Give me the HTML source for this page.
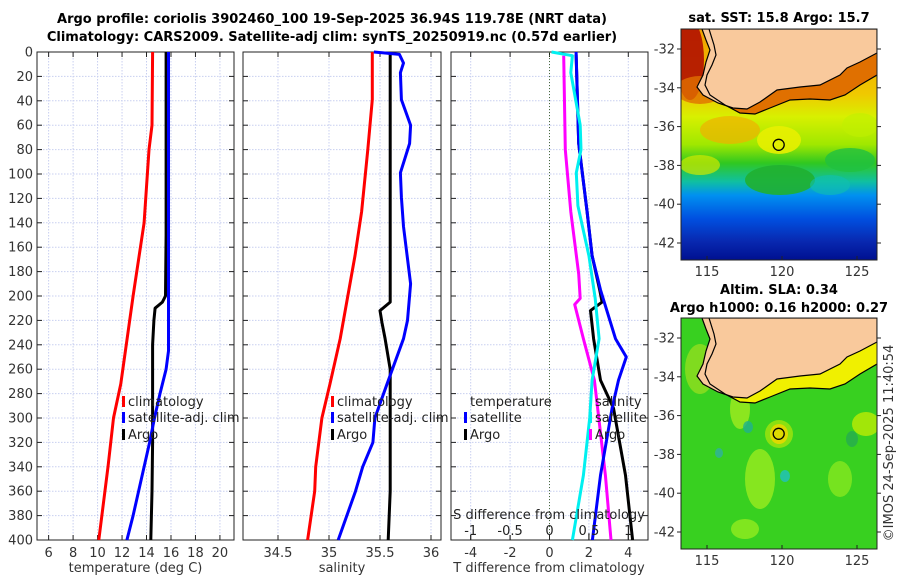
<!DOCTYPE html>
<html><head><meta charset="utf-8"><style>
html,body{margin:0;padding:0;background:#fff;}
svg{display:block;font-family:"DejaVu Sans","Liberation Sans",sans-serif;}
</style></head><body>
<svg id="fig" width="900" height="580" viewBox="0 0 900 580" xmlns="http://www.w3.org/2000/svg">
<defs>
<linearGradient id="sstGrad" x1="0" y1="0" x2="0" y2="1">
<stop offset="0" stop-color="#f0a000"/><stop offset="0.28" stop-color="#f0c800"/>
<stop offset="0.38" stop-color="#d8f000"/><stop offset="0.5" stop-color="#a0e800"/>
<stop offset="0.58" stop-color="#30c820"/><stop offset="0.66" stop-color="#10c0a0"/>
<stop offset="0.72" stop-color="#0090f0"/><stop offset="0.82" stop-color="#0050e0"/>
<stop offset="0.92" stop-color="#0828b0"/><stop offset="1" stop-color="#001090"/>
</linearGradient>
<clipPath id="clipTop"><rect x="681" y="29" width="196" height="231"/></clipPath>
<clipPath id="clipBot"><rect x="681" y="318" width="196" height="231"/></clipPath>
</defs>
<text x="332" y="23" text-anchor="middle" font-size="13" font-weight="bold">Argo profile: coriolis 3902460_100 19-Sep-2025 36.94S 119.78E (NRT data)</text>
<text x="332" y="41" text-anchor="middle" font-size="13" font-weight="bold">Climatology: CARS2009. Satellite-adj clim: synTS_20250919.nc (0.57d earlier)</text>
<g id="panels"></g>
<g id="maps"></g>
</svg>
<script>
// ---------- data ----------
const depthTicks = [0,20,40,60,80,100,120,140,160,180,200,220,240,260,280,300,320,340,360,380,400];
const tempTicks = [6,8,10,12,14,16,18,20];
const salTicks = [34.5,35,35.5,36];
const salTickLabels = ["34.5","35","35.5","36"];
const diffTTicks = [-4,-2,0,2,4];
const diffSTicks = [-1,-0.5,0,0.5,1];
const diffSTickLabels = ["-1","-0.5","0","0.5","1"];

const climTDepth = [0,60,80,140,200,272,300,340,400];
const climT = [14.5,14.45,14.2,13.8,12.9,11.9,11.3,10.85,10.1];
const satTDepth = [0,100,200,245,260,280,300,320,340,360,380,400];
const satT = [15.8,15.8,15.8,15.8,15.6,15.1,14.65,14.25,13.8,13.35,12.9,12.4];
const argoTDepth = [0,20,60,100,150,200,205,210,220,240,280,320,360,400];
const argoT = [15.6,15.6,15.6,15.6,15.6,15.55,15.3,14.7,14.6,14.5,14.5,14.5,14.45,14.35];

const climSDepth = [0,39,80,131,167,235,272,300,340,360,400];
const climS = [35.425,35.425,35.38,35.32,35.255,35.11,35.01,34.93,34.87,34.86,34.79];
const satSDepth = [0,2,9,17,39,60,75,99,119,143,190,220,235,272,300,320,340,360,400];
const satS = [35.44,35.69,35.73,35.70,35.71,35.80,35.79,35.70,35.71,35.73,35.80,35.77,35.73,35.57,35.45,35.43,35.33,35.26,35.09];
const argoSDepth = [2,100,205,212,222,235,260,300,360,400];
const argoS = [35.6,35.6,35.6,35.5,35.52,35.55,35.6,35.6,35.6,35.58];

const dTsatDepth = [0,75,131,167,195,235,250,269,292,347,400];
const dTsat = [1.35,1.48,1.91,2.16,2.59,3.35,3.9,3.5,3.18,2.59,2.18];
const dTargoDepth = [2,75,131,167,195,205,212,235,269,292,347,400];
const dTargo = [1.35,1.48,1.91,2.16,2.55,2.67,2.08,2.24,2.59,3.25,3.86,4.22];
const dSsatDepth = [0,3,17,60,80,99,126,167,202,235,269,300,347,400];
const dSsat = [0.025,0.29,0.27,0.39,0.40,0.34,0.36,0.5,0.58,0.63,0.54,0.51,0.43,0.29];
const dSargoDepth = [3,80,131,182,202,207,235,269,347,400];
const dSargo = [0.18,0.2,0.27,0.37,0.39,0.32,0.43,0.57,0.71,0.78];

// ---------- helpers ----------
const NS = "http://www.w3.org/2000/svg";
const panelsG = document.getElementById('panels');
function mk(tag, attrs, parent){const e=document.createElementNS(NS,tag);for(const k in attrs)e.setAttribute(k,attrs[k]);(parent||panelsG).appendChild(e);return e;}
const Y0=52, Y1=540;
function yD(d){return Y0+(d/400)*(Y1-Y0);}

function panel(name,x0,x1,vmin,vmax){
  const g=mk('g',{});
  
  
  const xs=v=>x0+(v-vmin)/(vmax-vmin)*(x1-x0);
  return {g,xs,x0,x1};
}
function frame(p,xticks,xlabels,showY){
  depthTicks.forEach(d=>{ if(d>0&&d<400){const l=mk('line',{x1:p.x0,x2:p.x1,y1:yD(d),y2:yD(d),stroke:'#c8cff0','stroke-width':1,'stroke-dasharray':'1.5,1.5'},p.g);
    
    }});
  xticks.forEach(v=>{const x=p.xs(v);const l=mk('line',{x1:x,x2:x,y1:Y0,y2:Y1,stroke:'#c8cff0','stroke-width':1,'stroke-dasharray':'1.5,1.5'},p.g);
    
    });
  const r=mk('rect',{x:p.x0,y:Y0,width:p.x1-p.x0,height:Y1-Y0,fill:'none',stroke:'#222','stroke-width':1},p.g);
  
  
  depthTicks.forEach(d=>{
    mk('line',{x1:p.x0,x2:p.x0+5,y1:yD(d),y2:yD(d),stroke:'#222'},p.g);
    mk('line',{x1:p.x1,x2:p.x1-5,y1:yD(d),y2:yD(d),stroke:'#222'},p.g);
    if(showY){const t=mk('text',{x:p.x0-4,y:yD(d)+4.5,'text-anchor':'end','font-size':13,fill:'#333'},p.g);t.textContent=d;
      
      }
  });
  xticks.forEach((v,i)=>{const x=p.xs(v);
    mk('line',{x1:x,x2:x,y1:Y1,y2:Y1-5,stroke:'#222'},p.g);
    mk('line',{x1:x,x2:x,y1:Y0,y2:Y0+5,stroke:'#222'},p.g);
    const t=mk('text',{x:x,y:557,'text-anchor':'middle','font-size':13,fill:'#333'},p.g);t.textContent=xlabels[i];
    
    });
}
function line(p,depths,vals,color,name,w){
  const pts=depths.map((d,i)=>p.xs(vals[i]).toFixed(1)+','+yD(d).toFixed(1)).join(' ');
  const l=mk('polyline',{points:pts,fill:'none',stroke:color,'stroke-width':w||3,'stroke-linejoin':'round'},p.g);
  
  
}
function txt(g,x,y,s,opts,name){const t=mk('text',Object.assign({x:x,y:y,'font-size':13,fill:'#222'},opts||{}),g);t.textContent=s;
  
  return t;}
function legend(g,x,y,color,label,name){
  const m=mk('rect',{x:x,y:y-10,width:3,height:11,fill:color},g);
  
  
  txt(g,x+6,y,label,{},name);
}

// Panel 1: temperature
const p1=panel('temperature-panel',37,234,5.05,21.15);
frame(p1,tempTicks,tempTicks.map(String),true);
line(p1,climTDepth,climT,'#ff0000','climatology-temp-line');
line(p1,argoTDepth,argoT,'#000','argo-temp-line');
line(p1,satTDepth,satT,'#0000ff','satellite-temp-line');
txt(p1.g,135.5,572,'temperature (deg C)',{'text-anchor':'middle',fill:'#333'},'x-axis-title-temperature');
legend(p1.g,122,406,'#ff0000','climatology','legend-climatology');
legend(p1.g,122,422,'#0000ff','satellite-adj. clim','legend-satellite');
legend(p1.g,122,439,'#000','Argo','legend-argo');

// Panel 2: salinity
const p2=panel('salinity-panel',243,441,34.157,36.098);
frame(p2,salTicks,salTickLabels,false);
line(p2,climSDepth,climS,'#ff0000','climatology-salinity-line');
line(p2,argoSDepth,argoS,'#000','argo-salinity-line');
line(p2,satSDepth,satS,'#0000ff','satellite-salinity-line');
txt(p2.g,342,572,'salinity',{'text-anchor':'middle',fill:'#333'},'x-axis-title-salinity');
legend(p2.g,331,406,'#ff0000','climatology','legend2-climatology');
legend(p2.g,331,422,'#0000ff','satellite-adj. clim','legend2-satellite');
legend(p2.g,331,439,'#000','Argo','legend2-argo');

// Panel 3: differences
const p3=panel('difference-panel',451,648,-5,5);
const ps={xs:v=>p3.xs(v*4)};
frame(p3,diffTTicks,diffTTicks.map(String),false);
const zl=mk('line',{x1:p3.xs(0),x2:p3.xs(0),y1:Y0,y2:Y1,stroke:'#4a6a3a','stroke-width':1,'stroke-dasharray':'1,2'},p3.g);


function sline(depths,vals,color,name){const pts=depths.map((d,i)=>ps.xs(vals[i]).toFixed(1)+','+yD(d).toFixed(1)).join(' ');
  const l=mk('polyline',{points:pts,fill:'none',stroke:color,'stroke-width':3,'stroke-linejoin':'round'},p3.g);
  
  }
sline(dSargoDepth,dSargo,'#ff00ff','argo-salinity-diff-line');
line(p3,dTargoDepth,dTargo,'#000','argo-temp-diff-line');
line(p3,dTsatDepth,dTsat,'#0000ff','satellite-temp-diff-line');
sline(dSsatDepth,dSsat,'#00f0f0','satellite-salinity-diff-line');
txt(p3.g,549,572,'T difference from climatology',{'text-anchor':'middle',fill:'#333'},'x-axis-title-t-diff');
txt(p3.g,549,519,'S difference from climatology',{'text-anchor':'middle',fill:'#222'},'s-axis-title');
diffSTicks.forEach((v,i)=>{const x=ps.xs(v);
  mk('line',{x1:x,x2:x,y1:Y1,y2:Y1-5,stroke:'#222'},p3.g);
  txt(p3.g,x,535,diffSTickLabels[i],{'text-anchor':'middle'},'s-tick-label');});
txt(p3.g,470,406,'temperature',{},'legend-temperature-header');
legend(p3.g,464,422,'#0000ff','satellite','legend-t-satellite');
legend(p3.g,464,439,'#000','Argo','legend-t-argo');
txt(p3.g,595,406,'salinity',{},'legend-salinity-header');
legend(p3.g,589,422,'#00f0f0','satellite','legend-s-satellite');
legend(p3.g,589,439,'#ff00ff','Argo','legend-s-argo');

// ---------- maps ----------
const mapsG=document.getElementById('maps');
function mm(tag,attrs,parent){const e=document.createElementNS(NS,tag);for(const k in attrs)e.setAttribute(k,attrs[k]);(parent||mapsG).appendChild(e);return e;}
const landPts="702,29 706,40 710,50 706,62 703,75 697,87 703,95 718,103 733,108 747,109 760,102 777,90 800,87 820,85 840,75 847,68 860,62 877,53 877,29";
const isoPts="709,29 714,45 716,55 712,65 707,75 705,85 710,95 725,105 740,113 755,114 770,108 790,100 810,99 830,100 845,95 860,85 877,75";
const lonTicks=[115,120,125], latTicks=[-32,-34,-36,-38,-40,-42];
function mapFrame(dy,name,oceanFill,blobs,bandColor,title1,title2){
  const g=mm('g',{});
  
  
  const c=mm('g',{'clip-path':dy?'url(#clipBot)':'url(#clipTop)'},g);
  mm('rect',{x:681,y:29+dy,width:196,height:231,fill:oceanFill},c);
  blobs.forEach(b=>mm('ellipse',{cx:b[0],cy:b[1]+dy,rx:b[2],ry:b[3],fill:b[4],opacity:b[5]||0.9},c));
  const band=mm('polygon',{points:landPts+' '+isoPts.split(' ').reverse().join(' '),fill:bandColor,transform:'translate(0,'+dy+')'},c);
  
  
  mm('polygon',{points:landPts,fill:'#f9c99c',stroke:'#000','stroke-width':1.2,transform:'translate(0,'+dy+')'},c);
  mm('polyline',{points:isoPts,fill:'none',stroke:'#000','stroke-width':1.2,transform:'translate(0,'+dy+')'},c);
  const circ=mm('circle',{cx:778.7,cy:144.8+dy,r:5.5,fill:'none',stroke:'#000','stroke-width':1.3},g);
  
  
  mm('rect',{x:681,y:29+dy,width:196,height:231,fill:'none',stroke:'#222','stroke-width':1},g);
  lonTicks.forEach(l=>{const x=707+(l-115)*15;
    mm('line',{x1:x,x2:x,y1:260+dy,y2:256+dy,stroke:'#222'},g);
    const t=mm('text',{x:x,y:276+dy,'text-anchor':'middle','font-size':13,fill:'#333'},g);t.textContent=l;
    
    });
  latTicks.forEach(l=>{const y=49+(-32-l)*19.4+dy;
    mm('line',{x1:877,x2:881,y1:y,y2:y,stroke:'#222'},g);
    mm('line',{x1:681,x2:677,y1:y,y2:y,stroke:'#222'},g);
    const t=mm('text',{x:675,y:y+4.5,'font-size':13,fill:'#333','text-anchor':'end'},g);t.textContent=l;
    
    });
  const tt=mm('text',{x:779,y:dy?294:22,'text-anchor':'middle','font-size':13,'font-weight':'bold'},g);tt.textContent=title1;
  
  
  if(title2){const t2=mm('text',{x:779,y:312,'text-anchor':'middle','font-size':13,'font-weight':'bold'},g);t2.textContent=title2;
    
    }
}
mapFrame(0,'sst-map','url(#sstGrad)',[
 [690,60,14,40,'#b01000',0.9],[700,90,25,14,'#e07000',0.8],[730,130,30,14,'#f0b000',0.7],
 [779,140,22,14,'#e8f000',0.9],[700,165,20,10,'#d0e800',0.7],[780,180,35,15,'#20b030',0.9],
 [850,160,25,12,'#20c040',0.8],[860,125,18,12,'#c0f000',0.6],[830,185,20,10,'#10c0b0',0.6]
],'#e07000','sat. SST: 15.8 Argo: 15.7');
mapFrame(289,'sla-map','#38d020',[
 [700,80,15,25,'#a0e020',0.7],[740,120,10,20,'#b0f020',0.7],[760,190,15,30,'#a8f020',0.7],
 [779,145,9,10,'#f0c000',0.9],[779,145,14,14,'#e0f000',0.5],[766,97,12,6,'#a0f000',0.6],
 [866,135,14,12,'#d0f000',0.7],[840,190,12,18,'#a0f020',0.6],[745,240,14,10,'#a0f020',0.7],
 [748,138,5,6,'#20b090',0.8],[785,187,5,6,'#20c0c0',0.8],[852,150,6,8,'#20a060',0.6],[719,164,4,5,'#30b0a0',0.8]
],'#f0f000','Altim. SLA: 0.34','Argo h1000: 0.16 h2000: 0.27');
const cr=mm('text',{x:0,y:0,'font-size':13,fill:'#333','text-anchor':'middle',transform:'translate(893,443) rotate(-90)'});
cr.textContent='©IMOS 24-Sep-2025 11:40:54';


</script>
</body></html>
